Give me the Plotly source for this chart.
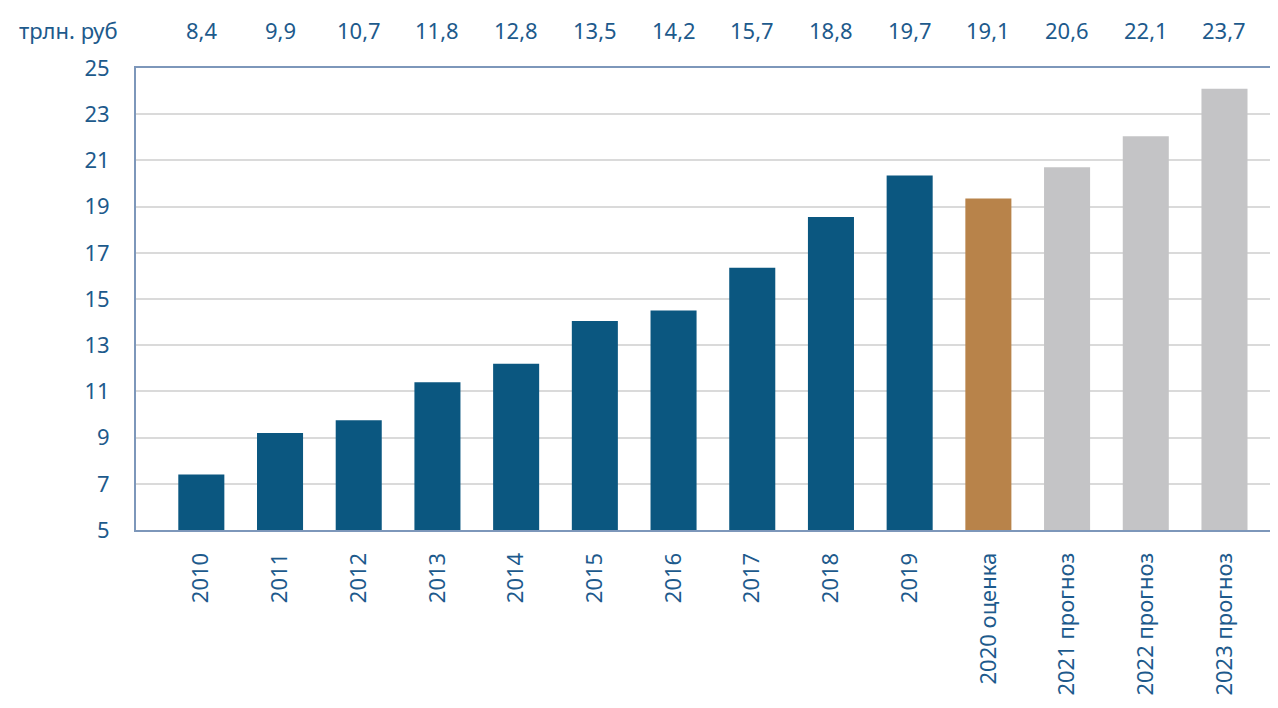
import plotly.graph_objects as go

# categories (x axis) and bar values
years = ["2010", "2011", "2012", "2013", "2014", "2015", "2016", "2017", "2018", "2019",
         "2020 оценка", "2021 прогноз", "2022 прогноз", "2023 прогноз"]
values = [7.4, 9.2, 9.75, 11.4, 12.2, 14.05, 14.5, 16.35, 18.55, 20.35,
          19.35, 20.7, 22.05, 24.1]
top_labels = ["8,4", "9,9", "10,7", "11,8", "12,8", "13,5", "14,2", "15,7", "18,8", "19,7",
              "19,1", "20,6", "22,1", "23,7"]
kinds = ["fact"] * 10 + ["estimate"] + ["forecast"] * 3

KIND_COLORS = {"fact": "#0b5780", "estimate": "#b8834a", "forecast": "#c4c4c6"}
TEXT = "#1d5a8c"
FONT = "Noto Sans"

fig = go.Figure()
fig.add_bar(
    x=years,
    y=values,
    marker_color=[KIND_COLORS[k] for k in kinds],
    marker_line_width=0,
    width=0.585,
    hoverinfo="x+y",
)

# value row above the plot; category axis -> position by index
for i, lab in enumerate(top_labels):
    fig.add_annotation(
        x=i, y=1.083, xref="x", yref="paper", text=lab, showarrow=False,
        xanchor="center", yanchor="middle", font=dict(size=22, color=TEXT, family=FONT),
    )
fig.add_annotation(
    x=-0.014, y=1.083, xref="paper", yref="paper", text="трлн. руб", showarrow=False,
    xanchor="right", yanchor="middle", font=dict(size=22, color=TEXT, family=FONT),
)

# page body has an 8px margin, so the figure is sized to fit inside it
fig.update_layout(
    width=1270,
    height=700,
    margin=dict(l=128, r=0, t=60, b=178),
    plot_bgcolor="white",
    paper_bgcolor="white",
    showlegend=False,
    font=dict(family=FONT, color=TEXT),
    xaxis=dict(
        type="category",
        range=[-0.83, 13.68],
        tickangle=-90,
        tickfont=dict(size=22, color=TEXT),
        showline=True,
        linecolor="#7d97ba",
        linewidth=2,
        mirror=True,
        showgrid=False,
        ticks="",
        ticklabelstandoff=12,
        automargin=False,
    ),
    yaxis=dict(
        range=[5, 25],
        tickvals=list(range(5, 26, 2)),
        tickfont=dict(size=22, color=TEXT),
        showline=True,
        linecolor="#7d97ba",
        linewidth=2,
        showgrid=True,
        gridcolor="#dadada",
        gridwidth=1.5,
        zeroline=False,
        ticks="",
        ticklabelstandoff=20,
        automargin=False,
    ),
)

fig.write_html("out.html")
